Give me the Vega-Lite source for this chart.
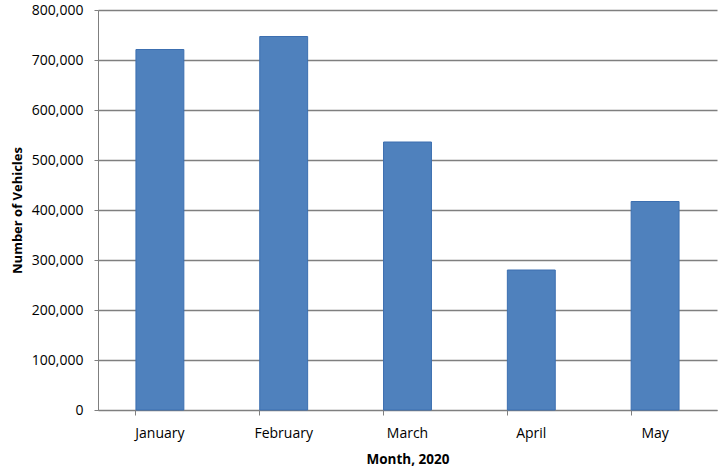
{
  "$schema": "https://vega.github.io/schema/vega-lite/v6.json",
  "autosize": "none",
  "width": 619,
  "height": 400,
  "padding": {"left": 98, "top": 10, "right": 3, "bottom": 60},
  "background": "white",
  "data": {
    "values": [
      {"month": "January", "vehicles": 721000},
      {"month": "February", "vehicles": 747000},
      {"month": "March", "vehicles": 536000},
      {"month": "April", "vehicles": 280000},
      {"month": "May", "vehicles": 417000}
    ]
  },
  "mark": {"type": "bar", "color": "#4F81BD", "stroke": "#3C6FB0", "strokeWidth": 1},
  "encoding": {
    "x": {
      "field": "month",
      "type": "nominal",
      "sort": null,
      "scale": {"paddingInner": 0.613, "paddingOuter": 0.3065},
      "axis": {
        "title": "Month, 2020",
        "labelAngle": 0,
        "bandPosition": 0,
        "domainColor": "#7F7F7F",
        "tickColor": "#7F7F7F",
        "tickSize": 5,
        "labelPadding": 11,
        "labelFont": "Open Sans",
        "labelFontSize": 14,
        "labelColor": "#000000",
        "titleFont": "Open Sans",
        "titleFontSize": 13.5,
        "titleFontWeight": "bold",
        "titleColor": "#000000",
        "titlePadding": 12
      }
    },
    "y": {
      "field": "vehicles",
      "type": "quantitative",
      "scale": {"domain": [0, 800000], "nice": false},
      "axis": {
        "title": "Number of Vehicles",
        "values": [0, 100000, 200000, 300000, 400000, 500000, 600000, 700000, 800000],
        "format": ",d",
        "grid": true,
        "gridColor": "#7F7F7F",
        "gridWidth": 1.3,
        "gridOpacity": 1,
        "domainColor": "#7F7F7F",
        "tickColor": "#7F7F7F",
        "tickSize": 4,
        "labelPadding": 11,
        "labelFont": "Open Sans",
        "labelFontSize": 14,
        "labelColor": "#000000",
        "titleFont": "Open Sans",
        "titleFontSize": 13,
        "titleFontWeight": "bold",
        "titleColor": "#000000",
        "titlePadding": 7
      }
    }
  },
  "config": {"view": {"stroke": null}}
}
